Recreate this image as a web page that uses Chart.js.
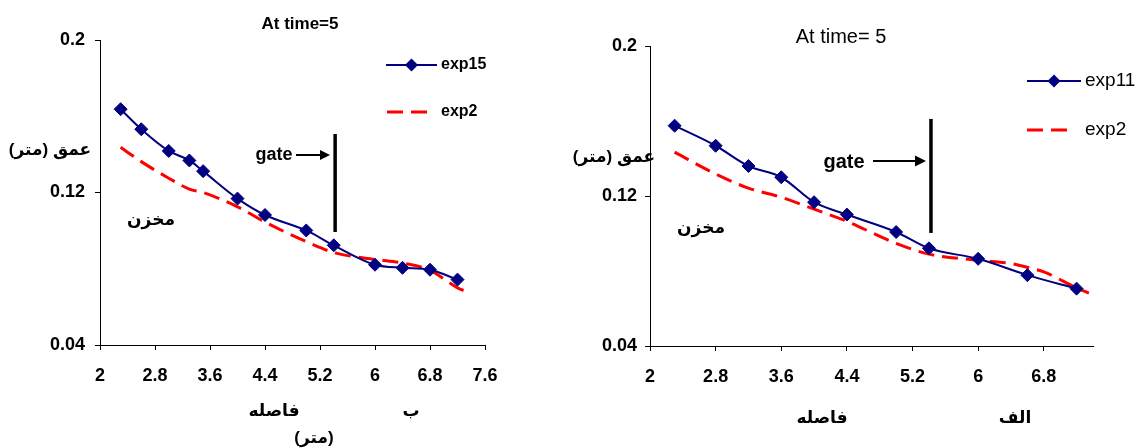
<!DOCTYPE html>
<html><head><meta charset="utf-8">
<script src="https://cdn.jsdelivr.net/npm/chart.js@4.4.1/dist/chart.umd.min.js"></script>
<style>
html,body{margin:0;padding:0;background:#fff;width:1143px;height:448px;overflow:hidden;}
canvas{position:absolute;top:0;}
#c1{left:0}
#c2{left:560px}
</style></head><body>
<canvas id="c1" width="560" height="448"></canvas>
<canvas id="c2" width="583" height="448"></canvas>
<script>
// ---- data ----
const yTicks = [0.04, 0.12, 0.2];
const xTicksLeft = [2, 2.8, 3.6, 4.4, 5.2, 6, 6.8, 7.6];
const xTicksRight = [2, 2.8, 3.6, 4.4, 5.2, 6, 6.8];

const distExp15 = [2.3, 2.6, 3.0, 3.3, 3.5, 4.0, 4.4, 5.0, 5.4, 6.0, 6.4, 6.8, 7.2];
const depthExp15 = [0.1637, 0.1532, 0.1418, 0.1368, 0.1312, 0.1168, 0.1082, 0.1001, 0.0923, 0.0821, 0.0805, 0.0795, 0.0743];
const distExp2Left = [2.3, 2.6, 3.0, 3.3, 3.5, 4.0, 4.4, 5.0, 5.4, 6.0, 6.4, 6.8, 7.2, 7.35];
const depthExp2Left = [0.1437, 0.1362, 0.1275, 0.1218, 0.1200, 0.1125, 0.1045, 0.0942, 0.0885, 0.0849, 0.0830, 0.0792, 0.0700, 0.0677];

const distExp11 = [2.3, 2.8, 3.2, 3.6, 4.0, 4.4, 5.0, 5.4, 6.0, 6.6, 7.2];
const depthExp11 = [0.1575, 0.1468, 0.1360, 0.1300, 0.1167, 0.1101, 0.1008, 0.0921, 0.0865, 0.0778, 0.0706];
const distExp2Right = [2.3, 2.8, 3.2, 3.6, 4.0, 4.4, 5.0, 5.4, 6.0, 6.4, 6.6, 6.8, 7.2, 7.35];
const depthExp2Right = [0.1434, 0.1317, 0.1242, 0.1193, 0.1130, 0.1065, 0.0947, 0.0890, 0.0857, 0.0840, 0.0820, 0.0795, 0.0710, 0.0682];

// ---- helpers ----
const FONT = "'Liberation Sans', Arial, 'DejaVu Sans', sans-serif";
const pts = (xs, ys) => xs.map((x, i) => ({x: x, y: ys[i]}));

const blueStyle = {borderColor:'#000080', backgroundColor:'#000080', borderWidth:2, pointStyle:'rectRot', pointRadius:6.5, pointBorderWidth:1, pointBorderColor:'#000080', pointBackgroundColor:'#000080', showLine:true, cubicInterpolationMode:'monotone'};
const redStyle = {borderColor:'#FF0000', backgroundColor:'#FF0000', borderWidth:3, borderDash:[16,8], pointRadius:0, showLine:true, cubicInterpolationMode:'monotone'};

const annotPlugin = {
  id: 'annot',
  afterDraw(chart, args, opts) {
    const ctx = chart.ctx;
    const xs = chart.scales.x, ys = chart.scales.y;
    ctx.save();
    // gate line
    const g = opts.gate;
    const gx = xs.getPixelForValue(g.x);
    ctx.strokeStyle = '#000'; ctx.lineWidth = g.width; ctx.setLineDash([]);
    ctx.beginPath();
    ctx.moveTo(gx, ys.getPixelForValue(g.yTop));
    ctx.lineTo(gx, ys.getPixelForValue(g.yBottom));
    ctx.stroke();
    // arrow
    const a = opts.arrow;
    ctx.lineWidth = 2;
    ctx.beginPath(); ctx.moveTo(a.x1, a.y); ctx.lineTo(a.x2 - a.head + 1, a.y); ctx.stroke();
    ctx.fillStyle = '#000';
    ctx.beginPath(); ctx.moveTo(a.x2, a.y); ctx.lineTo(a.x2 - a.head, a.y - a.half); ctx.lineTo(a.x2 - a.head, a.y + a.half); ctx.closePath(); ctx.fill();
    // texts
    for (const t of opts.texts) {
      ctx.font = t.font; ctx.fillStyle = '#000';
      ctx.textAlign = 'center'; ctx.textBaseline = 'middle';
      ctx.direction = t.rtl ? 'rtl' : 'ltr';
      ctx.fillText(t.text, t.x, t.y);
    }
    ctx.direction = 'ltr';
    // legend
    for (const l of opts.legend) {
      const ds = chart.data.datasets[l.ds];
      ctx.strokeStyle = ds.borderColor; ctx.lineWidth = ds.borderWidth;
      ctx.setLineDash(ds.borderDash || []);
      ctx.beginPath(); ctx.moveTo(l.x1, l.y); ctx.lineTo(l.x2, l.y); ctx.stroke();
      ctx.setLineDash([]);
      if (ds.pointRadius > 0) {
        const r = ds.pointRadius, cx = (l.x1 + l.x2) / 2;
        ctx.fillStyle = ds.pointBackgroundColor;
        ctx.beginPath(); ctx.moveTo(cx, l.y - r); ctx.lineTo(cx + r, l.y); ctx.lineTo(cx, l.y + r); ctx.lineTo(cx - r, l.y); ctx.closePath(); ctx.fill();
      }
      ctx.font = l.font; ctx.fillStyle = '#000'; ctx.textAlign = 'left'; ctx.textBaseline = 'middle';
      ctx.fillText(ds.label, l.tx, l.y);
    }
    ctx.restore();
  }
};

function makeChart(canvas, cfg) {
  const tickFont = {family: FONT, size: 18, weight: 'bold'};
  return new Chart(canvas, {
    type: 'scatter',
    data: {datasets: cfg.datasets},
    options: {
      responsive: false, animation: false, devicePixelRatio: 1,
      layout: {padding: cfg.padding},
      plugins: {legend: {display: false}, tooltip: {enabled: false}, title: {display: false}, annot: cfg.annot},
      scales: {
        x: {
          type: 'linear', min: cfg.xMin, max: cfg.xMax,
          afterBuildTicks: ax => { ax.ticks = cfg.xTicks.map(v => ({value: v})); },
          afterFit: s => { s.height = cfg.xHeight; },
          grid: {display: true, drawOnChartArea: false, drawTicks: true, tickLength: 5, color: '#000', lineWidth: 1},
          border: {display: true, color: '#000', width: 1},
          ticks: {color: '#000', font: tickFont, padding: 15, maxRotation: 0, autoSkip: false, callback: v => String(v)}
        },
        y: {
          type: 'linear', min: 0.04, max: 0.2,
          afterBuildTicks: ax => { ax.ticks = yTicks.map(v => ({value: v})); },
          afterFit: s => { s.width = cfg.yWidth; },
          grid: {display: true, drawOnChartArea: false, drawTicks: true, tickLength: 5, color: '#000', lineWidth: 1},
          border: {display: true, color: '#000', width: 1},
          ticks: {color: '#000', font: tickFont, padding: cfg.yPad, autoSkip: false, callback: v => String(v)}
        }
      }
    },
    plugins: [annotPlugin]
  });
}

const AR = "bold 17px 'Liberation Sans', 'DejaVu Sans', sans-serif";

makeChart(document.getElementById('c1'), {
  datasets: [
    Object.assign({label: 'exp15', data: pts(distExp15, depthExp15)}, blueStyle),
    Object.assign({label: 'exp2', data: pts(distExp2Left, depthExp2Left)}, redStyle)
  ],
  padding: {left: 0, right: 75, top: 40, bottom: 0},
  xMin: 2, xMax: 7.6, xTicks: xTicksLeft, xHeight: 103, yWidth: 100, yPad: 10,
  annot: {
    gate: {x: 5.42, yTop: 0.1507, yBottom: 0.0993, width: 3.5},
    arrow: {x1: 296, x2: 330, y: 155, head: 10, half: 5},
    texts: [
      {text: 'At time=5', x: 300, y: 24, font: "bold 17px " + FONT},
      {text: 'عمق (متر)', x: 50, y: 150, font: AR, rtl: true},
      {text: 'مخزن', x: 151, y: 220, font: AR, rtl: true},
      {text: 'gate', x: 274, y: 155, font: "bold 18px " + FONT},
      {text: 'فاصله', x: 274, y: 411, font: AR, rtl: true},
      {text: 'ب', x: 411, y: 411, font: AR, rtl: true},
      {text: '(متر)', x: 314, y: 438, font: AR, rtl: true}
    ],
    legend: [
      {ds: 0, x1: 386, x2: 437, y: 65, tx: 441, font: "bold 16px " + FONT},
      {ds: 1, x1: 387, x2: 430, y: 112, tx: 441, font: "bold 16px " + FONT}
    ]
  }
});

makeChart(document.getElementById('c2'), {
  datasets: [
    Object.assign({label: 'exp11', data: pts(distExp11, depthExp11)}, blueStyle),
    Object.assign({label: 'exp2', data: pts(distExp2Right, depthExp2Right)}, redStyle)
  ],
  padding: {left: 0, right: 50, top: 46, bottom: 0},
  xMin: 2, xMax: 7.4, xTicks: xTicksRight, xHeight: 102, yWidth: 90, yPad: 8,
  annot: {
    gate: {x: 5.425, yTop: 0.1611, yBottom: 0.1003, width: 3.5},
    arrow: {x1: 313, x2: 366, y: 161, head: 11, half: 5.5},
    texts: [
      {text: 'At time= 5', x: 281, y: 37, font: "20px " + FONT},
      {text: 'عمق (متر)', x: 54, y: 157, font: AR, rtl: true},
      {text: 'مخزن', x: 141, y: 228, font: AR, rtl: true},
      {text: 'gate', x: 284, y: 162, font: "bold 20px " + FONT},
      {text: 'فاصله', x: 262, y: 418, font: AR, rtl: true},
      {text: 'الف', x: 455, y: 418, font: AR, rtl: true}
    ],
    legend: [
      {ds: 0, x1: 467, x2: 521, y: 81, tx: 525, font: "19px " + FONT},
      {ds: 1, x1: 467, x2: 512, y: 130, tx: 525, font: "19px " + FONT}
    ]
  }
});
</script>
</body></html>
